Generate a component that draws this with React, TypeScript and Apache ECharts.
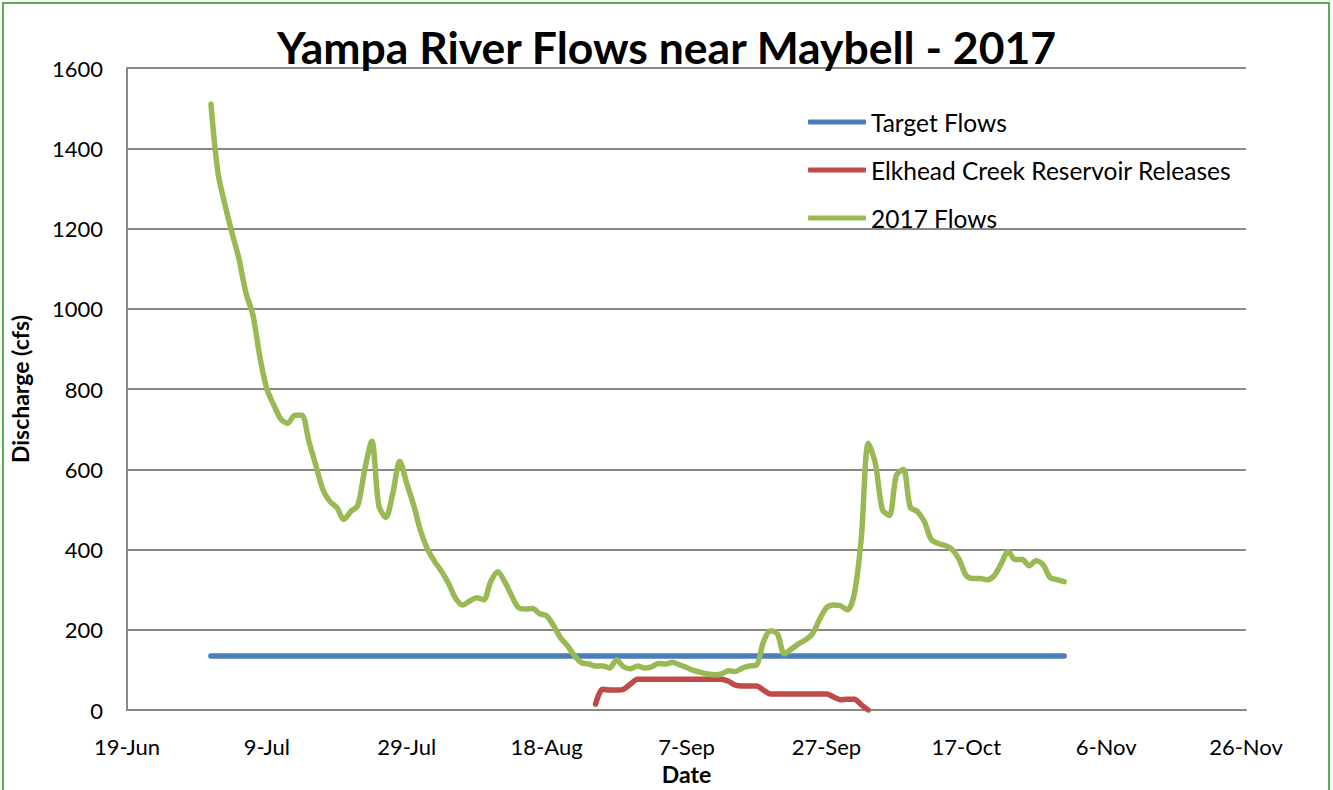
import React, { useEffect, useRef } from "react";
import * as echarts from "echarts";

const xTickLabels = ["19-Jun", "9-Jul", "29-Jul", "18-Aug", "7-Sep", "27-Sep", "17-Oct", "6-Nov", "26-Nov"];
const axisStartDate = "2017-06-19";

const targetDates = ["2017-07-01", "2017-10-31"];
const targetFlows = [135, 135];

const releaseStart = "2017-08-25";
const releases = [
  15, 52, 50, 50, 52, 65, 77, 77, 77, 77, 77, 77, 77, 77, 77, 77, 77, 77, 77, 72,
  62, 60, 60, 60, 50, 40, 40, 40, 40, 40, 40, 40, 40, 40, 33, 26, 27, 27, 13, 0,
];

const flowStart = "2017-07-01";
const flows2017 = [
  1510, 1340, 1260, 1190, 1125, 1040, 985, 880, 800, 760, 725, 715, 735, 735, 670, 610, 550, 520, 505, 475,
  495, 510, 600, 670, 510, 480, 540, 620, 565, 510, 445, 400, 370, 345, 315, 278, 262, 272, 280, 275,
  320, 345, 320, 285, 255, 252, 253, 240, 235, 210, 180, 160, 135, 118, 115, 110, 110, 105, 125, 108,
  103, 110, 105, 108, 116, 115, 119, 113, 106, 99, 94, 90, 88, 90, 98, 96, 105, 110, 112, 170,
  198, 190, 140, 152, 165, 175, 190, 225, 255, 262, 260, 250, 290, 430, 665, 615, 500, 485, 585, 600,
  505, 495, 470, 425, 415, 410, 400, 375, 335, 328, 328, 325, 335, 365, 395, 375, 375, 360, 372, 362,
  330, 325, 320,
];

function dayOffset(dateStr: string): number {
  const [y, m, d] = dateStr.split("-").map(Number);
  const [y0, m0, d0] = axisStartDate.split("-").map(Number);
  return Math.round((Date.UTC(y, m - 1, d) - Date.UTC(y0, m0 - 1, d0)) / 86400000);
}

function dailySeries(start: string, values: number[]): [number, number][] {
  const s = dayOffset(start);
  return values.map((v, i) => [s + i, v]);
}

const FONT = "Lato, 'Open Sans', sans-serif";

export default function App() {
  const ref = useRef<HTMLDivElement>(null);
  useEffect(() => {
    document.body.style.margin = "0";
    const chart = echarts.init(ref.current!, undefined, { renderer: "svg" });
    chart.setOption({
      animation: false,
      backgroundColor: "#ffffff",
      title: {
        text: "Yampa River Flows near Maybell - 2017",
        left: "center",
        top: 19,
        textStyle: { fontFamily: FONT, fontSize: 44.5, fontWeight: "bold", color: "#000" },
      },
      graphic: [
        {
          type: "rect",
          shape: { x: 3, y: 3, width: 1326, height: 800 },
          style: { fill: "none", stroke: "#55b055", lineWidth: 2 },
          silent: true,
        },
      ],
      legend: {
        orient: "vertical",
        left: 808,
        top: 109,
        padding: 0,
        icon: "roundRect",
        itemWidth: 58,
        itemHeight: 5,
        itemGap: 22,
        textStyle: { fontFamily: FONT, fontSize: 24.5, color: "#000", lineHeight: 26, padding: [0, 0, 0, 0] },
        data: ["Target Flows", "Elkhead Creek Reservoir Releases", "2017 Flows"],
      },
      grid: { left: 126, right: 87, top: 68, bottom: 77, containLabel: false },
      xAxis: {
        type: "value",
        min: 0,
        max: 160,
        interval: 20,
        name: "Date",
        nameLocation: "middle",
        nameGap: 49,
        nameTextStyle: { fontFamily: FONT, fontSize: 23, fontWeight: "bold", color: "#000" },
        axisLine: { show: true, lineStyle: { color: "#888", width: 2 } },
        axisTick: { show: false },
        splitLine: { show: false },
        axisLabel: {
          fontFamily: FONT,
          fontSize: 22,
          color: "#000",
          margin: 25,
          formatter: (v: number) => xTickLabels[Math.round(v / 20)] ?? "",
        },
      },
      yAxis: {
        type: "value",
        min: 0,
        max: 1600,
        interval: 200,
        name: "Discharge (cfs)",
        nameLocation: "middle",
        nameGap: 96,
        nameRotate: 90,
        nameTextStyle: { fontFamily: FONT, fontSize: 23, fontWeight: "bold", color: "#000" },
        axisLine: { show: true, lineStyle: { color: "#888", width: 2 } },
        axisTick: { show: false },
        splitLine: { show: true, lineStyle: { color: "#888", width: 2 } },
        axisLabel: { fontFamily: FONT, fontSize: 22, color: "#000", margin: 24, formatter: (v: number) => String(v) },
      },
      series: [
        {
          name: "Target Flows",
          type: "line",
          data: targetDates.map((d, i) => [dayOffset(d), targetFlows[i]]),
          symbol: "none",
          lineStyle: { color: "#4a7ebb", width: 5.5, cap: "round" },
          itemStyle: { color: "#4a7ebb" },
        },
        {
          name: "Elkhead Creek Reservoir Releases",
          type: "line",
          data: dailySeries(releaseStart, releases),
          symbol: "none",
          smooth: 0.3,
          lineStyle: { color: "#be4b48", width: 5.5, cap: "round" },
          itemStyle: { color: "#be4b48" },
        },
        {
          name: "2017 Flows",
          type: "line",
          data: dailySeries(flowStart, flows2017),
          symbol: "none",
          smooth: 0.3,
          lineStyle: { color: "#98b954", width: 5.5, cap: "round" },
          itemStyle: { color: "#98b954" },
        },
      ],
    });
    return () => chart.dispose();
  }, []);
  return (
    <div
      ref={ref}
      style={{ position: "fixed", left: 0, top: 0, width: 1333, height: 790 }}
    />
  );
}
